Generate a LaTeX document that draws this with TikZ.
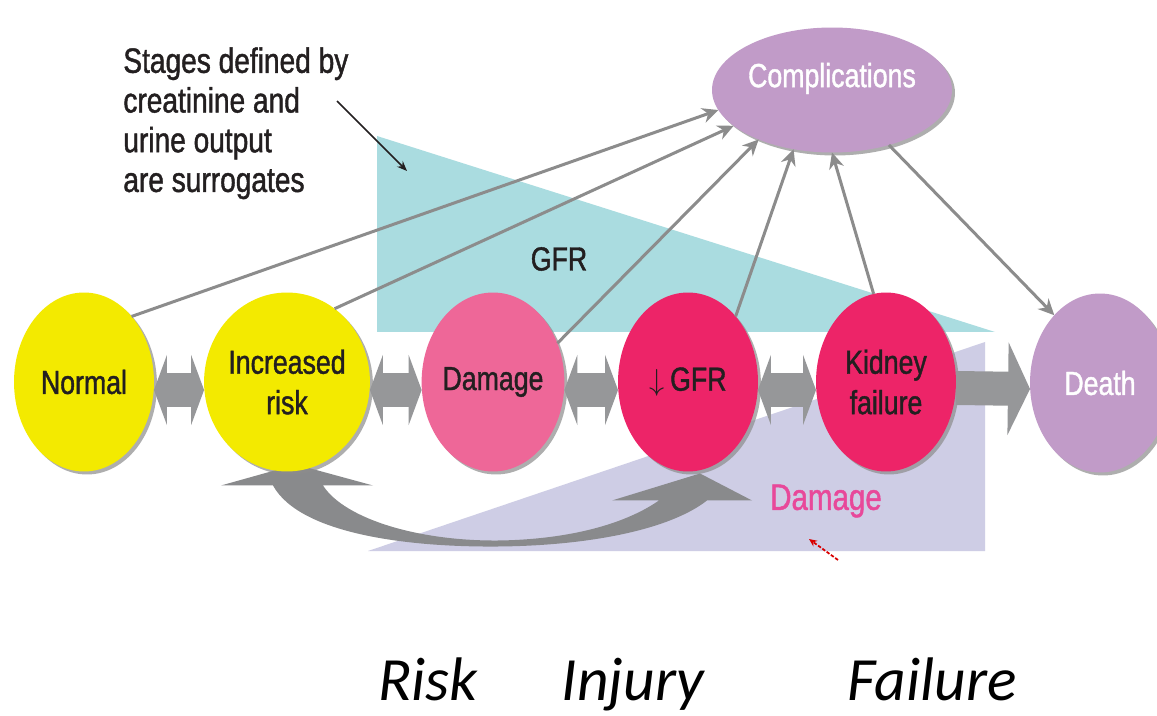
\documentclass[tikz,border=0pt]{standalone}
\usepackage{fontspec}
\setmainfont{Liberation Sans}
\newfontfamily\narrowsf[FakeStretch=0.8,FakeBold=1.2]{Liberation Sans}
\newfontfamily\calibri{Carlito}
\usetikzlibrary{arrows.meta,shapes.geometric,shadows,calc}
\pgfdeclarelayer{background}
\pgfsetlayers{background,main}

\definecolor{riskyellow}{RGB}{243,234,0}
\definecolor{damagepink}{RGB}{238,103,152}
\definecolor{failred}{RGB}{237,36,104}
\definecolor{outcomelilac}{RGB}{193,155,200}
\definecolor{gfrcyan}{RGB}{170,220,224}
\definecolor{damlav}{RGB}{206,205,229}
\definecolor{blockgray}{RGB}{150,151,153}
\definecolor{bandgray}{RGB}{137,138,140}
\definecolor{linegray}{RGB}{140,140,140}
\definecolor{damagetext}{RGB}{232,72,154}
\definecolor{inkdark}{RGB}{35,31,32}

\begin{document}
\begin{tikzpicture}[x=0.02cm, y=-0.02cm,
    font=\narrowsf\fontsize{19}{23}\selectfont,
    stage/.style={ellipse, inner sep=0pt, outer sep=0pt, minimum width=2.8cm, minimum height=3.58cm,
      align=center, text=inkdark,
      drop shadow={shadow xshift=0.06cm, shadow yshift=-0.06cm, fill=black!45, opacity=0.7}},
    risky/.style={stage, fill=riskyellow},
    hurt/.style={stage, fill=damagepink},
    severe/.style={stage, fill=failred},
    outcome/.style={stage, fill=outcomelilac, text=white},
    twoway/.style={draw=blockgray, line width=0.68cm,
      {Triangle[length=0.26cm,width=1.4cm]}-{Triangle[length=0.26cm,width=1.4cm]}},
    oneway/.style={draw=blockgray, line width=0.68cm, -{Triangle[length=0.44cm,width=1.84cm]}},
    link/.style={draw=linegray, line width=0.06cm, -{Stealth[length=0.32cm,width=0.3cm]}},
    stagename/.style={font=\calibri\itshape\fontsize{35}{40}\selectfont, anchor=base, inner sep=0pt}]
  \useasboundingbox (0,0) rectangle (1157,716);

  % stages
  \node[risky]  (normal) at (84,382)   {Normal};
  \node[risky]  (risk)   at (287,382)  {Increased\\risk};
  \node[hurt]   (damage) at (493,382)  {Damage};
  \node[severe] (gfr)    at (688,382)  {$\downarrow$\,GFR};
  \node[severe] (kidney) at (886,382)  {Kidney\\failure};
  \node[outcome] (death) at (1100,383) {Death};
  \node[outcome, minimum width=4.8cm, minimum height=2.5cm, text depth=0.6cm] (compl) at (832,90) {Complications};

  % texts
  \node[font=\narrowsf\fontsize{20}{22.6}\selectfont, align=left, anchor=north west, inner sep=0pt, text=inkdark]
    (note) at (123,47) {Stages defined by\\creatinine and\\urine output\\are surrogates};
  \node[text=inkdark] (gfrlbl) at (559,259) {GFR};
  \node[font=\narrowsf\fontsize{21}{24}\selectfont, text=damagetext] (damlbl) at (826,501) {Damage};
  \node[stagename] (rname) at (428,700) {Risk};
  \node[stagename] (iname) at (633,700) {Injury};
  \node[stagename] (fname) at (932,700) {Failure};

  % progression
  \draw[twoway] ([yshift=-0.16cm]normal.east) -- ([yshift=-0.16cm]risk.west);
  \draw[twoway] ([yshift=-0.16cm]risk.east) -- ([yshift=-0.16cm]damage.west);
  \draw[twoway] ([yshift=-0.16cm]damage.east) -- ([yshift=-0.16cm]gfr.west);
  \draw[twoway] ([yshift=-0.16cm]gfr.east) -- ([yshift=-0.16cm]kidney.west);
  \draw[oneway] ([yshift=-0.12cm]kidney.east) -- ([yshift=-0.12cm]death.west);

  % complications
  \draw[link] (normal.54) -- (compl.190);
  \draw[link] (risk.57) -- (compl.200);
  \draw[link] (damage.31) -- (compl.214);
  \draw[link] (gfr.54) -- (compl.237);
  \draw[link] (kidney.98) -- (compl.270);
  \draw[link] (compl.316) -- (death.124);

  % pointers
  \coordinate (notetail) at (337,101);
  \coordinate (notetip) at (407,171);
  \draw[inkdark, line width=0.035cm, -{Stealth[length=0.2cm,width=0.16cm]}] (notetail) -- (notetip);
  \coordinate (redtail) at (838,560);
  \coordinate (redtip) at (809,539);
  \draw[red!85!black, line width=0.035cm, dash pattern=on 2pt off 1pt, -{Stealth[length=0.16cm,width=0.14cm]}] (redtail) -- (redtip);

  % shaded trends and curved return arrow
  \begin{pgfonlayer}{background}
    \fill[white] (0,0) rectangle (1157,716);
    \fill[gfrcyan] (377,136) -- (377,332) -- (995,332) -- cycle;
    \fill[damlav] (368,551) -- (985,342) -- (985,551) -- cycle;
    \fill[bandgray]
      ($(risk.south)+(-14,14)$) .. controls ($(risk.south)+(13,63)$) and ($(risk.south)+(123,76)$) .. ($(risk.south)+(213,75)$)
      .. controls ($(gfr.south)+(-98,74)$) and ($(gfr.south)+(-18,58)$) .. ($(gfr.south)+(19,29)$)
      -- ($(gfr.south)+(64,29)$) -- ($(gfr.south)+(12,2)$) -- ($(gfr.south)+(-76,29)$) -- ($(gfr.south)+(-29,29)$)
      .. controls ($(gfr.south)+(-68,56)$) and ($(gfr.south)+(-128,68)$) .. ($(risk.south)+(213,69)$)
      .. controls ($(risk.south)+(133,70)$) and ($(risk.south)+(58,48)$) .. ($(risk.south)+(36,14)$)
      -- ($(risk.south)+(86,14)$) -- ($(risk.south)+(9,-7)$) -- ($(risk.south)+(-66,14)$) -- cycle;
  \end{pgfonlayer}
\end{tikzpicture}
\end{document}
